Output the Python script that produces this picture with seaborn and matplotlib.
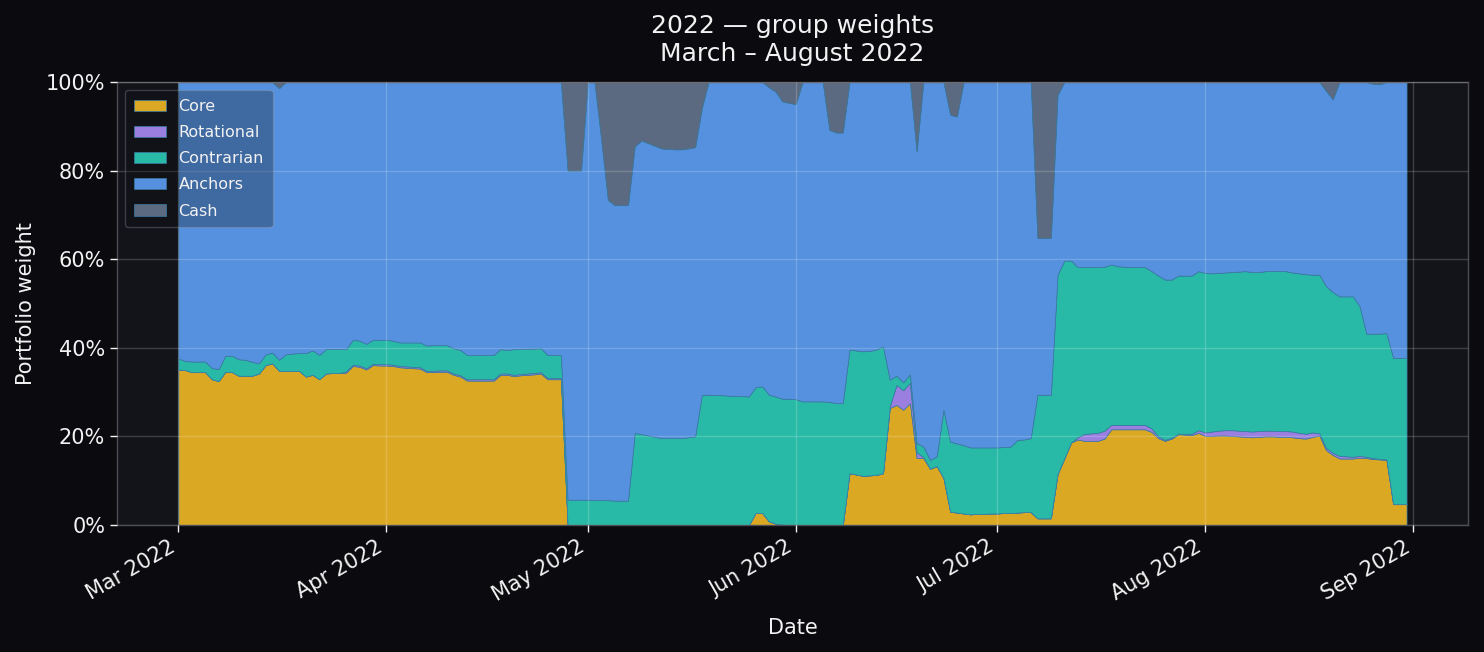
import pandas as pd
import seaborn as sns
import matplotlib.pyplot as plt
import matplotlib.dates as mdates
from matplotlib.ticker import PercentFormatter

# Daily group weights (%), 1 Mar 2022 - 31 Aug 2022
dates = pd.date_range('2022-03-01', '2022-08-31', freq='D')

core = (
    [35.1, 35.0, 34.5, 34.5, 34.5, 32.9, 32.5, 34.6, 34.5, 33.7, 33.7, 33.7, 34.2, 36.1, 36.5, 34.8,
     34.8, 34.8, 34.8, 33.5, 33.9, 32.9, 34.2, 34.3, 34.3, 34.4, 35.9, 35.7, 35.1, 36.1, 36.0]
    + [36.0, 35.9, 35.6, 35.5, 35.4, 35.3, 34.5, 34.5, 34.6, 34.6, 33.9, 33.5, 32.6, 32.6, 32.6,
       32.6, 32.6, 33.9, 33.9, 33.6, 33.8, 33.9, 34.0, 34.2, 32.9, 32.9, 32.9, 0.0, 0.0, 0.0]
    + [0.0] * 25 + [2.7, 2.7, 0.8, 0.3, 0.1, 0.0]
    + [0.0] * 8 + [11.7, 11.4, 11.1, 11.2, 11.3, 11.7, 26.4, 27.1, 26.0, 27.5, 15.1, 15.1, 12.7,
                   13.3, 10.6, 3.0, 2.8, 2.6, 2.4, 2.5, 2.5, 2.6]
    + [2.6, 2.7, 2.7, 2.8, 2.9, 2.9, 1.5, 1.5, 1.5, 11.5, 15.0, 18.6, 19.3, 19.0, 19.0, 19.0, 19.5,
       21.6, 21.6, 21.6, 21.6, 21.6, 21.6, 21.0, 19.6, 19.0, 19.5, 20.5, 20.4, 20.3, 20.8]
    + [20.1, 20.1, 20.2, 20.2, 20.1, 20.0, 19.9, 19.8, 19.9, 20.0, 20.0, 19.9, 19.9, 19.8, 19.6,
       19.5, 19.9, 20.2, 16.9, 15.8, 15.0, 15.0, 15.0, 15.2, 15.1, 14.9, 14.8, 14.7, 4.7, 4.7, 4.7]
)

rotational = (
    [0.0] * 25 + [0.3] * 6
    + [0.3] * 27 + [0.0] * 3
    + [0.0] * 31
    + [0.0] * 14 + [0.4, 4.5, 4.4, 4.6, 1.3, 0.2] + [0.0] * 10
    + [0.0] * 12 + [0.5, 1.5, 1.7, 1.8, 1.8, 1.0, 1.0, 1.0, 1.0, 1.0, 1.0, 0.8, 0.4, 0.2, 0.2,
                    0.1, 0.2, 0.3, 0.6]
    + [0.8, 1.0, 1.1, 1.2] + [1.3] * 10 + [1.2, 1.1, 1.0, 0.5, 0.5, 0.5, 0.6, 0.5, 0.4, 0.4, 0.3,
                                          0.2, 0.1, 0.1, 0.0, 0.0, 0.0]
)

contrarian = (
    [2.5, 2.0, 2.4, 2.4, 2.4, 2.5, 2.7, 3.6, 3.7, 3.7, 3.6, 3.1, 2.3, 2.4, 2.4, 2.5, 3.7, 3.9, 4.0,
     5.3, 5.5, 5.5, 5.5, 5.4, 5.4, 5.0, 5.6, 5.6, 5.5, 5.4, 5.5]
    + [5.5, 5.4, 5.3, 5.4, 5.5, 5.6, 5.7, 5.8, 5.7, 5.7, 5.7, 5.7, 5.5, 5.5, 5.5, 5.5, 5.5, 5.5,
       5.3, 5.8, 5.6, 5.6, 5.5, 5.4, 5.2, 5.2, 5.2, 5.7, 5.7, 5.7]
    + [5.7, 5.6, 5.6, 5.6, 5.5, 5.5, 5.5, 20.8, 20.5, 20.2, 19.9, 19.6, 19.6, 19.6, 19.6, 19.8,
       20.0, 29.4, 29.4, 29.3, 29.3, 29.2, 29.1, 29.1, 29.0, 28.4, 28.6, 28.6, 28.7, 28.4, 28.5]
    + [28.4, 27.9, 27.9, 27.9, 27.9, 27.8, 27.5, 27.5, 27.9, 28.0, 28.1, 28.1, 28.3, 28.6, 6.0,
       2.1, 1.8, 1.9, 2.1, 2.4, 2.0, 2.2, 15.4, 15.8, 15.6, 15.4, 15.1, 15.0, 15.0, 14.9]
    + [14.9, 14.9, 15.0, 16.4, 16.4, 16.7, 27.9, 27.9, 27.9, 45.0, 44.7, 41.1, 38.4, 37.7, 37.6,
       37.4, 37.0, 36.2, 35.8, 35.7, 35.6, 35.6, 35.6, 35.5, 36.3, 36.2, 35.7, 35.7, 35.7, 35.7, 35.9]
    + [36.0, 35.7, 35.6, 35.6, 35.7, 35.9, 36.1, 36.0, 35.9, 36.0, 36.0, 36.1, 36.1, 35.9, 36.0,
       36.0, 35.6, 35.8, 36.5, 36.3, 36.0, 36.1, 36.2, 33.8, 27.8, 28.1, 28.3, 28.5, 33.0, 33.0, 33.0]
)

anchors = (
    [62.4, 63.0, 63.1, 63.1, 63.1, 64.6, 64.8, 61.8, 61.8, 62.6, 62.7, 63.2, 63.5, 61.5, 61.1,
     61.3, 61.5, 61.3, 61.2, 61.2, 60.6, 61.6, 60.3, 60.3, 60.3, 60.3, 58.2, 58.4, 59.1, 58.2, 58.2]
    + [58.2, 58.4, 58.8, 58.8, 58.8, 58.8, 59.5, 59.4, 59.4, 59.4, 60.1, 60.5, 61.6, 61.6, 61.6,
       61.6, 61.6, 60.3, 60.5, 60.3, 60.3, 60.2, 60.2, 60.1, 61.6, 61.6, 61.6, 74.3, 74.3, 74.3]
    + [94.3, 94.4, 81.4, 67.8, 66.7, 66.7, 66.7, 64.7, 66.3, 66.0, 65.7, 65.4, 65.3, 65.2, 65.2,
       65.2, 65.3, 64.7, 70.6, 70.7, 70.7, 70.8, 70.9, 70.9, 71.0, 68.9, 68.7, 69.4, 68.8, 67.1, 66.8]
    + [66.6, 72.1, 72.1, 72.1, 72.1, 61.4, 61.1, 61.1, 60.4, 60.6, 60.8, 60.7, 60.4, 59.7, 67.2,
       66.3, 67.8, 66.0, 65.8, 82.3, 85.3, 84.5, 74.0, 73.8, 73.8, 82.0, 82.5, 82.5, 82.5, 82.5]
    + [82.5, 82.4, 82.3, 80.8, 80.7, 80.4, 35.4, 35.4, 35.4, 40.6, 40.3, 40.3, 41.8, 41.8, 41.7,
       41.8, 41.7, 41.2, 41.6, 41.7, 41.8, 41.8, 41.8, 42.7, 43.7, 44.6, 44.6, 43.7, 43.7, 43.7, 42.7]
    + [43.1, 43.2, 43.1, 43.0, 42.9, 42.8, 42.7, 42.9, 42.9, 42.7, 42.7, 42.7, 42.7, 43.0, 43.2,
       43.4, 43.5, 43.5, 44.1, 43.5, 48.4, 48.4, 48.4, 50.6, 56.8, 56.4, 56.3, 56.7, 62.3, 62.3, 62.3]
)

cash = (
    [0.0] * 15 + [1.4] + [0.0] * 15
    + [0.0] * 27 + [20.0, 20.0, 20.0]
    + [0.0, 0.0, 13.0, 26.6, 27.8, 27.8, 27.8, 14.5, 13.2, 13.8, 14.4, 15.0, 15.1, 15.2, 15.2,
       15.0, 14.7, 5.9] + [0.0] * 9 + [1.2, 2.2, 4.4, 4.7]
    + [5.0, 0.0, 0.0, 0.0, 0.0, 10.8, 11.4, 11.4] + [0.0] * 10 + [15.7, 0.0, 0.0, 0.0, 0.0, 7.4,
                                                                  7.8, 0.0, 0.0, 0.0, 0.0, 0.0]
    + [0.0] * 6 + [35.2, 35.2, 35.2, 2.9] + [0.0] * 21
    + [0.0] * 18 + [2.0, 3.9, 0.0, 0.0, 0.0, 0.0, 0.0, 0.4, 0.5, 0.0, 0.0, 0.0, 0.0]
)

groups = ['Core', 'Rotational', 'Contrarian', 'Anchors', 'Cash']
colors = ['#dba823', '#9b7fe0', '#28baa6', '#5591de', '#5b6a80']

weights = pd.DataFrame({'Core': core, 'Rotational': rotational, 'Contrarian': contrarian,
                        'Anchors': anchors, 'Cash': cash}, index=dates)

# Тёмная тема
sns.set_theme(style='dark', rc={
    'figure.facecolor': '#0b0b0f',
    'axes.facecolor': '#13131a',
    'axes.edgecolor': '#4d4d55',
    'axes.linewidth': 1.0,
    'text.color': '#f2f2f2',
    'axes.labelcolor': '#f2f2f2',
    'xtick.color': '#f2f2f2',
    'ytick.color': '#f2f2f2',
    'xtick.bottom': True,
    'ytick.left': True,
})
plt.rcParams['font.family'] = ['DejaVu Sans']

fig, ax = plt.subplots(figsize=(14.84, 6.52), dpi=100)
fig.subplots_adjust(left=0.0788, right=0.9892, top=0.8742, bottom=0.1948)

ax.stackplot(weights.index, [weights[g] for g in groups], labels=groups, colors=colors,
             linewidth=0.5, edgecolor='#3a7ca5', zorder=1)

ax.set_ylim(0, 100)
ax.yaxis.set_major_formatter(PercentFormatter(xmax=100, decimals=0))
ax.set_yticks([0, 20, 40, 60, 80, 100])
ax.xaxis.set_major_locator(mdates.MonthLocator())
ax.xaxis.set_major_formatter(mdates.DateFormatter('%b %Y'))
ax.tick_params(axis='both', labelsize=15, length=5, width=1, colors='#f2f2f2')
plt.setp(ax.get_xticklabels(), rotation=30, ha='right')

ax.grid(True, color='white', alpha=0.18, linewidth=1)
ax.set_axisbelow(False)

ax.set_title('2022 — group weights\nMarch – August 2022', fontsize=18, pad=15, color='#f2f2f2')
ax.set_xlabel('Date', fontsize=15, labelpad=9)
ax.set_ylabel('Portfolio weight', fontsize=15, labelpad=7)

leg = ax.legend(loc='upper left', fontsize=11.5, frameon=True, facecolor='#0e0f14',
                edgecolor='#a0a4b0', framealpha=0.3, labelcolor='#f2f2f2',
                labelspacing=0.7, borderpad=0.55, handletextpad=0.8)

plt.savefig('out.png', dpi=100, facecolor=fig.get_facecolor())
